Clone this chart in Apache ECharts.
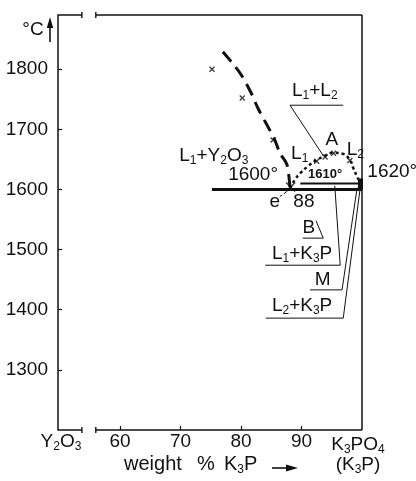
<!DOCTYPE html>
<html>
<head>
<meta charset="utf-8">
<script src="https://cdn.jsdelivr.net/npm/echarts@6/dist/echarts.min.js"></script>
<style>
html, body { margin: 0; padding: 0; background: #fff; }
#chart { width: 416px; height: 481px; }
</style>
</head>
<body>
<div id="chart"></div>
<script>
// Phase diagram of the Y2O3 – K3PO4 system (weight % K3P against °C)
const xTicks = [60, 70, 80, 90];
const yTicks = [1300, 1400, 1500, 1600, 1700, 1800];

// Liquidus of Y2O3 (dashed)
const liquidusX = [77.0, 79.8, 81.6, 82.8, 84.3, 85.6, 86.4, 87.6, 88.1];
const liquidusT = [1829, 1794, 1762, 1735, 1707, 1682, 1661, 1641, 1602];
// Measured points, L1 + Y2O3 field
const pointsX = [75.2, 80.2, 85.3];
const pointsT = [1800, 1752, 1682];
// Miscibility gap L1 + L2 (dotted)
const gapX = [88.1, 88.9, 89.8, 91.1, 92.5, 93.9, 95.2, 96.9, 98.0, 98.5, 99.2, 99.7];
const gapT = [1602, 1616, 1627, 1639, 1649, 1656, 1661, 1659, 1649, 1637, 1621, 1611];
const gapPointsX = [92.5, 93.9, 95.3, 98.0];
const gapPointsT = [1647, 1654, 1660, 1648];
// Eutectic e: 88 wt%, 1600 °C
const eutecticX = [75.2, 100];
const eutecticT = [1600, 1600];
const eX = [88.2];
const eT = [1604];
// Monotectic at 1610 °C
const monotecticX = [89.8, 100];
const monotecticT = [1610, 1610];
// K3PO4 melting at 1620 °C
const meltX = [99.75, 99.75];
const meltT = [1600, 1618];

const zip = (xs, ys) => xs.map((x, i) => [x, ys[i]]);

const INK = '#111';
const FONT = '"Liberation Sans", Arial, sans-serif';
const X_MIN = 49.75, X_MAX = 100, T_MIN = 1200, T_MAX = 1890;
const BREAK = [53.7, 56.0];   // gap in the composition axis

const chart = echarts.init(document.getElementById('chart'), null, { renderer: 'canvas' });

const crossSymbol = 'path://M0,0L10,10M10,0L0,10';

chart.setOption({
  animation: false,
  backgroundColor: '#fff',
  grid: { left: 58, right: 54, top: 15, bottom: 51 },
  xAxis: {
    type: 'value', min: X_MIN, max: X_MAX,
    axisLine: { show: false },
    splitLine: { show: false },
    axisTick: { show: true, inside: true, length: 4, customValues: xTicks, lineStyle: { color: INK, width: 1.2 } },
    axisLabel: { customValues: xTicks, color: INK, fontSize: 19, fontFamily: FONT, margin: 2,
      formatter: v => String(v) }
  },
  yAxis: {
    type: 'value', min: T_MIN, max: T_MAX,
    axisLine: { show: true, lineStyle: { color: INK, width: 1.5 } },
    splitLine: { show: false },
    axisTick: { show: true, inside: true, length: 4, customValues: yTicks, lineStyle: { color: INK, width: 1.2 } },
    axisLabel: { customValues: yTicks, color: INK, fontSize: 19, fontFamily: FONT, margin: 10,
      formatter: v => String(v) }
  },
  series: [
    {
      type: 'line', data: zip(liquidusX, liquidusT), smooth: 0.3, symbol: 'none',
      lineStyle: { color: INK, width: 3, type: [13, 7] }
    },
    {
      type: 'scatter', data: zip(pointsX, pointsT), symbol: crossSymbol, symbolSize: 5,
      itemStyle: { color: 'none', borderColor: INK, borderWidth: 1.4 }
    },
    {
      type: 'line', data: zip(gapX, gapT), smooth: 0.4, symbol: 'none',
      lineStyle: { color: INK, width: 2.5, type: [3, 3] }
    },
    {
      type: 'scatter', data: zip(gapPointsX, gapPointsT), symbol: crossSymbol, symbolSize: 5,
      itemStyle: { color: 'none', borderColor: INK, borderWidth: 1.4 }
    },
    {
      type: 'scatter', data: zip(eX, eT), symbol: crossSymbol, symbolSize: 9,
      itemStyle: { color: 'none', borderColor: INK, borderWidth: 1.6 }
    },
    {
      type: 'line', data: zip(eutecticX, eutecticT), symbol: 'none',
      lineStyle: { color: INK, width: 3 }
    },
    {
      type: 'line', data: zip(monotecticX, monotecticT), symbol: 'none',
      lineStyle: { color: INK, width: 2 }
    },
    {
      type: 'line', data: zip(meltX, meltT), symbol: 'none',
      lineStyle: { color: INK, width: 5 }
    }
  ]
});

// ---- frame, labels and leader lines placed through the axes ----
const P = (x, t) => chart.convertToPixel({ gridIndex: 0 }, [x, t]);

function seg(a, b, w) {
  return { type: 'line', silent: true,
    shape: { x1: a[0], y1: a[1], x2: b[0], y2: b[1] },
    style: { stroke: INK, lineWidth: w || 1.2 } };
}
function poly(points, w, dash) {
  return { type: 'polyline', silent: true,
    shape: { points: points.map(p => P(p[0], p[1])) },
    style: { stroke: INK, lineWidth: w || 1, fill: null, lineDash: dash || null } };
}
const SUB = { fontSize: 12, fontFamily: FONT, fill: INK, verticalAlign: 'bottom', lineHeight: 12 };
function label(text, pos, opts) {
  opts = opts || {};
  const size = opts.size || 19;
  return { type: 'text', silent: true, x: pos[0], y: pos[1],
    style: {
      text: text, fill: INK, fontSize: size, fontFamily: FONT, fontWeight: opts.weight || 'normal',
      lineHeight: size + 3,
      align: opts.align || 'center', verticalAlign: 'middle',
      textAlign: opts.align || 'center', textVerticalAlign: 'middle',
      rich: { s: SUB }
    } };
}

function drawOverlay() {
  const g = [];
  const bl = P(X_MIN, T_MIN), br = P(X_MAX, T_MIN), tl = P(X_MIN, T_MAX), tr = P(X_MAX, T_MAX);
  const b0 = P(BREAK[0], T_MIN), b1 = P(BREAK[1], T_MIN);
  const t0 = P(BREAK[0], T_MAX), t1 = P(BREAK[1], T_MAX);
  // right axis
  g.push(seg(tr, br, 1.5));
  // top and bottom axes with a break
  g.push(seg(tl, t0, 1.5), seg(t1, tr, 1.5), seg(bl, b0, 1.5), seg(b1, br, 1.5));
  [t0, t1, b0, b1].forEach(p => g.push(seg([p[0], p[1] - 3], [p[0], p[1] + 3], 1.4)));

  // temperature unit with arrow
  const ax = bl[0] - 8;
  g.push(seg([ax, tl[1] + 27], [ax, tl[1] + 10], 1.6));
  g.push({ type: 'polygon', silent: true,
    shape: { points: [[ax, tl[1] + 2], [ax - 3.2, tl[1] + 13], [ax + 3.2, tl[1] + 13]] },
    style: { fill: INK } });
  g.push(label('°C', [tl[0] - 25, tl[1] + 15]));

  // composition axis end labels and title
  g.push(label('Y{s|2}O{s|3}', [bl[0] + 3, bl[1] + 12]));
  g.push(label('K{s|3}PO{s|4}', [br[0] - 4, br[1] + 15]));
  g.push(label('(K{s|3}P)', [br[0] - 4, br[1] + 35]));
  const ty = bl[1] + 34;
  g.push(label('weight', [bl[0] + 66, ty], { align: 'left', size: 20 }));
  g.push(label('%', [bl[0] + 139, ty], { align: 'left', size: 20 }));
  g.push(label('K{s|3}P', [bl[0] + 166, ty], { align: 'left', size: 20 }));
  const ay = bl[1] + 38, axs = bl[0] + 214;
  g.push(seg([axs, ay], [axs + 16, ay], 1.6));
  g.push({ type: 'polygon', silent: true,
    shape: { points: [[axs + 26, ay], [axs + 14, ay - 3.5], [axs + 14, ay + 3.5]] },
    style: { fill: INK } });

  // field labels
  g.push(label('L{s|1}+Y{s|2}O{s|3}', P(75.5, 1656)));
  g.push(label('L{s|1}+L{s|2}', P(92.2, 1764)));
  g.push(poly([[88.1, 1740], [96.9, 1740]]));
  g.push(poly([[88.1, 1740], [93.6, 1656]]));
  g.push(label('A', P(95.0, 1683)));
  g.push(label('L{s|1}', P(89.7, 1659)));
  g.push(label('L{s|2}', P(98.9, 1666)));
  g.push(label('1610°', P(93.9, 1625), { size: 13, weight: 'bold' }));
  g.push(label('1620°', P(105.0, 1630)));
  g.push(label('1600°', P(82.0, 1625)));
  g.push(label('e', P(85.6, 1579)));
  g.push(poly([[86.4, 1588], [88.1, 1600]], 1, [3, 2]));
  g.push(label('88', P(90.4, 1579)));

  g.push(label('B', P(91.2, 1537)));
  g.push(poly([[90.2, 1519], [93.6, 1519], [92.4, 1548]]));
  g.push(label('L{s|1}+K{s|3}P', P(90.1, 1493)));
  g.push(poly([[84.0, 1474], [96.4, 1474], [95.5, 1606]]));
  g.push(label('M', P(93.5, 1450)));
  g.push(poly([[91.4, 1433], [96.7, 1433], [99.2, 1603]]));
  g.push(label('L{s|2}+K{s|3}P', P(90.1, 1407)));
  g.push(poly([[84.1, 1386], [96.9, 1386], [99.7, 1602]]));

  chart.setOption({ graphic: { elements: g } });
}
drawOverlay();
</script>
</body>
</html>
